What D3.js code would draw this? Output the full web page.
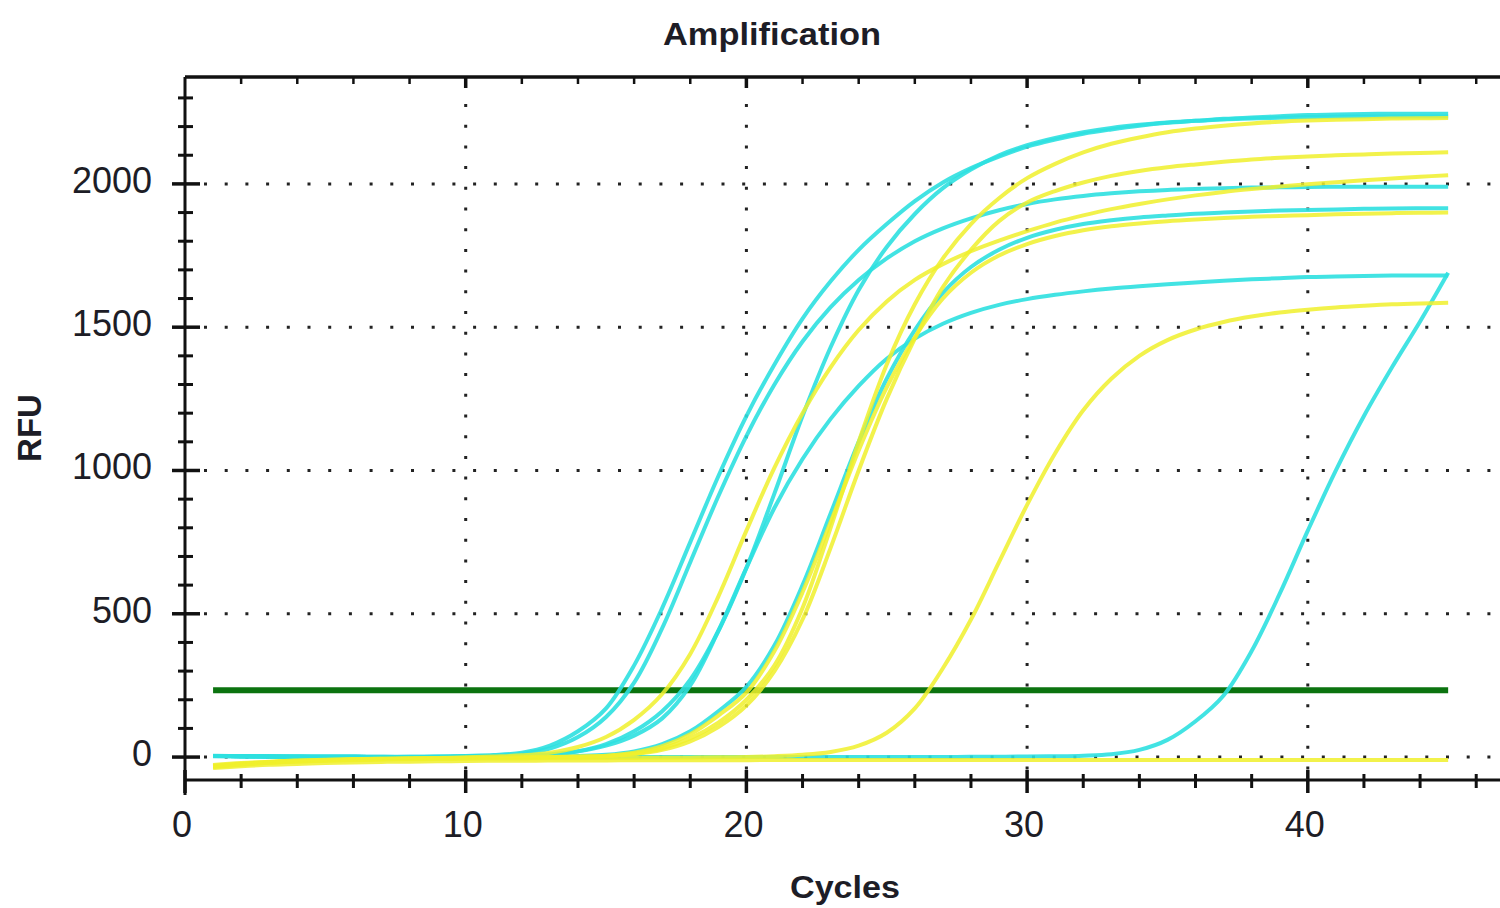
<!DOCTYPE html>
<html>
<head>
<meta charset="utf-8">
<script src="https://cdn.jsdelivr.net/npm/d3@7"></script>
<style>
html,body{margin:0;padding:0;background:#fff;}
svg{display:block;}
</style>
</head>
<body>
<svg id="chart" width="1500" height="908"></svg>
<script>
// ---------- data ----------
const cycles = [1,2,3,4,5,6,7,8,9,10,11,12,13,14,15,16,17,18,19,20,21,22,23,24,25,26,27,28,29,30,31,32,33,34,35,36,37,38,39,40,41,42,43,44,45];

// FAM-like (cyan) wells
const cyanA = [4,3,2,2,1,1,1,1,2,4,7,15,40,90,170,320,520,750,980,1190,1370,1530,1660,1770,1860,1940,2005,2055,2095,2130,2155,2175,2190,2203,2213,2220,2227,2232,2236,2240,2242,2244,2245,2245,2245];
const cyanB = [3,2,2,1,1,1,0,1,1,3,5,12,30,70,140,260,450,680,910,1120,1300,1450,1570,1665,1740,1800,1845,1880,1908,1930,1946,1958,1967,1974,1979,1982,1985,1987,1988,1989,1990,1990,1990,1990,1990];
const cyanC = [4,3,2,1,1,1,0,0,1,1,2,4,8,20,45,90,160,270,440,660,920,1190,1430,1630,1780,1895,1985,2050,2100,2135,2160,2180,2195,2206,2214,2220,2225,2228,2231,2233,2234,2235,2235,2235,2235];
const cyanD = [5,3,2,2,1,1,1,0,0,1,2,4,10,20,40,75,135,250,440,660,870,1040,1180,1295,1390,1460,1512,1550,1578,1598,1613,1625,1635,1643,1650,1656,1662,1667,1671,1675,1677,1679,1680,1680,1680];
const cyanE = [4,3,2,1,1,1,0,0,0,1,1,1,2,4,8,20,45,90,160,245,390,600,850,1100,1320,1490,1620,1710,1770,1812,1840,1860,1873,1883,1890,1896,1900,1904,1907,1909,1911,1913,1914,1915,1915];
const cyanF = [4,3,2,1,1,1,0,0,0,0,0,0,0,0,0,0,0,0,0,0,0,0,0,0,0,0,0,1,1,2,3,5,10,25,60,125,215,370,570,790,1000,1190,1360,1520,1690];

// HEX-like (yellow) wells
const yellowA = [-32,-24,-18,-14,-11,-9,-7,-5,-3,-1,2,6,15,35,70,130,220,360,560,790,1010,1200,1360,1490,1590,1665,1720,1765,1802,1835,1865,1890,1912,1930,1946,1960,1972,1982,1991,1999,2006,2013,2019,2025,2030];
const yellowB = [-30,-23,-17,-13,-10,-8,-6,-5,-4,-3,-2,-1,0,2,5,15,38,80,145,225,370,575,820,1070,1290,1465,1600,1690,1750,1790,1818,1838,1852,1862,1870,1876,1881,1885,1888,1891,1894,1896,1898,1899,1900];
const yellowC = [-35,-27,-20,-15,-12,-9,-7,-6,-5,-4,-3,-2,-1,1,4,12,30,65,120,200,320,520,800,1100,1370,1580,1740,1860,1950,2020,2070,2110,2140,2162,2180,2193,2203,2211,2217,2221,2224,2226,2228,2229,2230];
const yellowD = [-28,-21,-16,-12,-9,-7,-6,-5,-4,-3,-2,-2,-1,0,3,10,25,55,105,180,300,480,730,1000,1250,1460,1640,1770,1870,1935,1975,2005,2028,2045,2058,2068,2077,2085,2091,2096,2100,2103,2106,2108,2110];
const yellowE = [-33,-26,-20,-16,-13,-11,-9,-8,-7,-6,-5,-5,-4,-4,-3,-3,-2,-2,-1,0,3,8,18,40,85,170,310,480,680,880,1060,1210,1320,1400,1455,1492,1518,1537,1551,1561,1569,1575,1580,1583,1585];
const yellowF = [-38,-32,-27,-24,-21,-19,-17,-16,-15,-14,-13,-13,-12,-12,-12,-11,-11,-11,-11,-11,-10,-10,-10,-10,-10,-10,-10,-10,-10,-10,-10,-10,-10,-10,-10,-10,-10,-10,-10,-10,-10,-10,-10,-10,-10];

const cyanSeries = [cyanA, cyanB, cyanC, cyanD, cyanE, cyanF];
const yellowSeries = [yellowA, yellowB, yellowC, yellowD, yellowE, yellowF];

const thresholdRFU = 233;
const yTickLabels = [0, 500, 1000, 1500, 2000];
const xTickLabels = [0, 10, 20, 30, 40];
const chartTitle = "Amplification";
const xAxisTitle = "Cycles";
const yAxisTitle = "RFU";

// ---------- drawing ----------
const svg = d3.select("#chart");
const FONT = "'Liberation Sans', Arial, Helvetica, sans-serif";
const INK = "#1d1d26";

const x = d3.scaleLinear().domain([0, 47]).range([185, 185 + 47 * 28.07]);
const y = d3.scaleLinear().domain([-80, 2373]).range([780, 77]);

const plotLeft = 185, plotRight = 1500, plotTop = 77, plotBottom = 780;

// grid (dotted)
const grid = svg.append("g");
grid.selectAll("line.h").data(yTickLabels).join("line")
  .attr("x1", plotLeft + 19).attr("x2", plotRight)
  .attr("y1", d => y(d)).attr("y2", d => y(d))
  .attr("stroke", "#222").attr("stroke-width", 3)
  .attr("stroke-dasharray", "3 17.7");
grid.selectAll("line.v").data(xTickLabels.filter(d => d > 0)).join("line")
  .attr("x1", d => x(d)).attr("x2", d => x(d))
  .attr("y1", plotTop + 27).attr("y2", plotBottom)
  .attr("stroke", "#222").attr("stroke-width", 3)
  .attr("stroke-dasharray", "3 17.7");

// minor tick positions
const xMinor = d3.range(0, 47, 2);
const yMinor = d3.range(100, 2400, 100).filter(v => v % 500 !== 0);

// axes lines
const ax = svg.append("g").attr("stroke", "#111");
ax.append("line").attr("x1", plotLeft).attr("x2", plotLeft).attr("y1", plotTop).attr("y2", 795).attr("stroke-width", 3);
ax.append("line").attr("x1", plotLeft).attr("x2", plotRight).attr("y1", plotBottom).attr("y2", plotBottom).attr("stroke-width", 3);
ax.append("line").attr("x1", plotLeft).attr("x2", plotRight).attr("y1", plotTop).attr("y2", plotTop).attr("stroke-width", 3.5);

// y ticks
ax.selectAll("line.ymin").data(yMinor).join("line")
  .attr("x1", 178).attr("x2", 193)
  .attr("y1", d => y(d)).attr("y2", d => y(d)).attr("stroke-width", 3);
ax.selectAll("line.ymaj").data(yTickLabels).join("line")
  .attr("x1", 172).attr("x2", 200)
  .attr("y1", d => y(d)).attr("y2", d => y(d)).attr("stroke-width", 3.5);

// x ticks bottom
ax.selectAll("line.xmin").data(xMinor.filter(d => d % 10 !== 0)).join("line")
  .attr("x1", d => x(d)).attr("x2", d => x(d))
  .attr("y1", 774).attr("y2", 788).attr("stroke-width", 3);
ax.selectAll("line.xmaj").data(xTickLabels).join("line")
  .attr("x1", d => x(d)).attr("x2", d => x(d))
  .attr("y1", 770).attr("y2", 793).attr("stroke-width", 3.5);
// x ticks top
ax.selectAll("line.tmin").data(xMinor.filter(d => d > 0)).join("line")
  .attr("x1", d => x(d)).attr("x2", d => x(d))
  .attr("y1", plotTop).attr("y2", d => d % 10 === 0 ? plotTop + 11 : plotTop + 7)
  .attr("stroke-width", d => d % 10 === 0 ? 3.5 : 2.5);

// tick labels
svg.append("g").selectAll("text").data(yTickLabels).join("text")
  .attr("x", 152).attr("y", d => y(d) + 9)
  .attr("text-anchor", "end")
  .attr("font-family", FONT).attr("font-size", 36).attr("fill", INK)
  .text(d => d);
svg.append("g").selectAll("text").data(xTickLabels).join("text")
  .attr("x", d => x(d) - 3).attr("y", 837)
  .attr("text-anchor", "middle")
  .attr("font-family", FONT).attr("font-size", 36).attr("fill", INK)
  .text(d => d);

// titles
svg.append("text").attr("x", 663).attr("y", 45)
  .attr("font-family", FONT).attr("font-size", 32).attr("font-weight", "bold").attr("fill", INK)
  .attr("textLength", 218).attr("lengthAdjust", "spacingAndGlyphs")
  .text(chartTitle);
svg.append("text").attr("x", 790).attr("y", 898)
  .attr("font-family", FONT).attr("font-size", 32).attr("font-weight", "bold").attr("fill", INK)
  .attr("textLength", 110).attr("lengthAdjust", "spacingAndGlyphs")
  .text(xAxisTitle);
svg.append("text").attr("transform", "translate(41,428) rotate(-90)")
  .attr("text-anchor", "middle")
  .attr("font-family", FONT).attr("font-size", 33).attr("font-weight", "bold").attr("fill", INK)
  .text(yAxisTitle);

// threshold
svg.append("line")
  .attr("x1", x(cycles[0])).attr("x2", x(cycles[cycles.length - 1]))
  .attr("y1", y(thresholdRFU)).attr("y2", y(thresholdRFU))
  .attr("stroke", "#0b730f").attr("stroke-width", 6);

// curves
const line = d3.line()
  .x((d, i) => x(cycles[i]))
  .y(d => y(d))
  .curve(d3.curveCatmullRom.alpha(0.5));

const curves = svg.append("g").attr("fill", "none").attr("stroke-width", 4)
  .attr("stroke-linejoin", "round");
curves.selectAll("path.c").data(cyanSeries).join("path")
  .attr("d", line).attr("stroke", "#2ee0e0").attr("stroke-opacity", 0.9);
curves.selectAll("path.y").data(yellowSeries).join("path")
  .attr("d", line).attr("stroke", "#f0f02c").attr("stroke-opacity", 0.85);
</script>
</body>
</html>
